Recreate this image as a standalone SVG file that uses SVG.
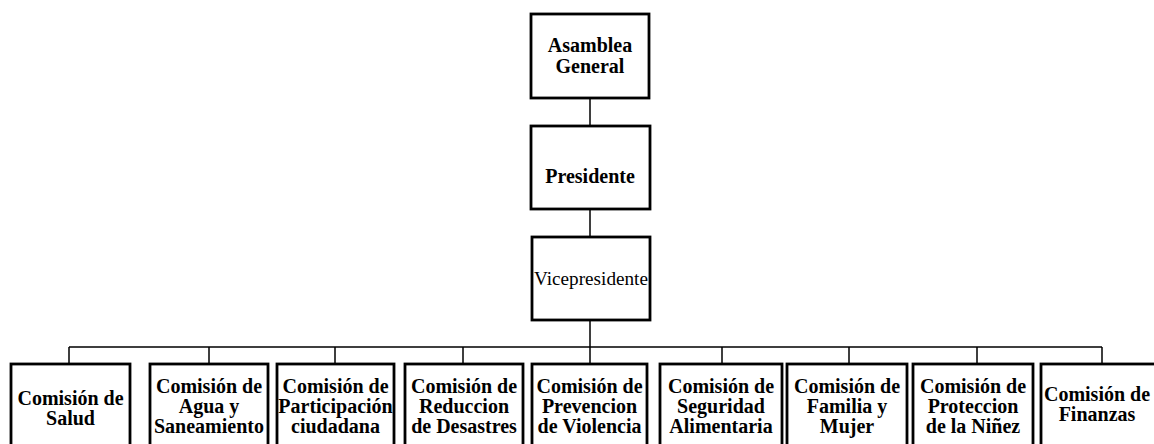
<svg xmlns="http://www.w3.org/2000/svg" width="1154" height="444" viewBox="0 0 1154 444">
<style>
.box{fill:#fff;stroke:#000;stroke-width:2.8}
.t{font-family:'Liberation Serif','DejaVu Serif','Noto Serif',serif;font-size:20px;font-weight:bold;text-anchor:middle;fill:#000}
.r{font-weight:normal;font-size:19.2px}
.c{fill:none;stroke:#000;stroke-width:1.5}
</style>
<rect width="1154" height="444" fill="#fff"/>
<g id="connectors">
<path class="c" d="M590 98V126M590 209V237M590 320V347M69 347H1102M69 347V364M209 347V364M335 347V364M463 347V364M590 347V364M722 347V364M849 347V364M977 347V364M1102 347V364"/>
</g>
<g id="asamblea"><rect class="box" x="531" y="14" width="118" height="84"/><text class="t" x="590" y="52">Asamblea</text><text class="t" x="590" y="73">General</text></g>
<g id="presidente"><rect class="box" x="531" y="126" width="119" height="83"/><text class="t" x="590" y="183">Presidente</text></g>
<g id="vicepresidente"><rect class="box" x="532" y="237" width="118" height="83"/><text class="t r" x="591" y="285">Vicepresidente</text></g>
<g id="salud"><rect class="box" x="11" y="364" width="119" height="90"/><text class="t" x="70.5" y="405">Comisión de</text><text class="t" x="70.5" y="425">Salud</text></g>
<g id="agua"><rect class="box" x="150" y="364" width="118" height="90"/><text class="t" x="209" y="393">Comisión de</text><text class="t" x="209" y="413">Agua y</text><text class="t" x="209" y="433">Saneamiento</text></g>
<g id="participacion"><rect class="box" x="277" y="364" width="117" height="90"/><text class="t" x="335.5" y="393">Comisión de</text><text class="t" x="335.5" y="413">Participación</text><text class="t" x="335.5" y="433">ciudadana</text></g>
<g id="reduccion"><rect class="box" x="405" y="364" width="118" height="90"/><text class="t" x="464" y="393">Comisión de</text><text class="t" x="464" y="413">Reduccion</text><text class="t" x="464" y="433">de Desastres</text></g>
<g id="prevencion"><rect class="box" x="532" y="364" width="115" height="90"/><text class="t" x="589.5" y="393">Comisión de</text><text class="t" x="589.5" y="413">Prevencion</text><text class="t" x="589.5" y="433">de Violencia</text></g>
<g id="seguridad"><rect class="box" x="660" y="364" width="122" height="90"/><text class="t" x="721" y="393">Comisión de</text><text class="t" x="721" y="413">Seguridad</text><text class="t" x="721" y="433">Alimentaria</text></g>
<g id="familia"><rect class="box" x="787" y="364" width="120" height="90"/><text class="t" x="847" y="393">Comisión de</text><text class="t" x="847" y="413">Familia y</text><text class="t" x="847" y="433">Mujer</text></g>
<g id="proteccion"><rect class="box" x="913" y="364" width="120" height="90"/><text class="t" x="973" y="393">Comisión de</text><text class="t" x="973" y="413">Proteccion</text><text class="t" x="973" y="433">de la Niñez</text></g>
<g id="finanzas"><rect class="box" x="1041" y="364" width="130" height="90"/><text class="t" x="1097" y="401">Comisión de</text><text class="t" x="1097" y="421">Finanzas</text></g>
</svg>
